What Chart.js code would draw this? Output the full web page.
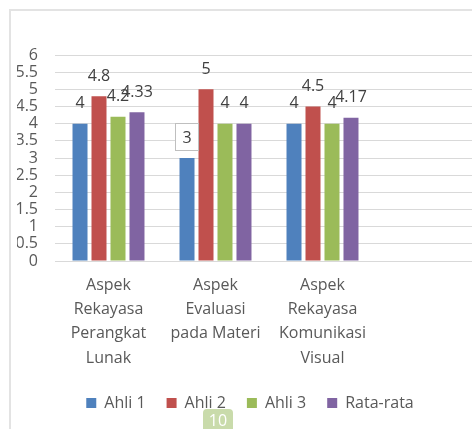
<!DOCTYPE html>
<html>
<head>
<meta charset="utf-8">
<script src="https://cdn.jsdelivr.net/npm/chart.js@4/dist/chart.umd.min.js"></script>
<style>
  html, body { margin: 0; padding: 0; background: #ffffff; overflow: hidden; width: 472px; height: 429px; }
  #frame { position: absolute; left: 9px; top: 9px; width: 600px; height: 500px; border-left: 2px solid #e3e3e3; border-top: 2px solid #e3e3e3; box-sizing: border-box; }
  #wrap { position: absolute; left: 0; top: 0; width: 500px; height: 429px; }
  #badge { position: absolute; left: 203px; top: 409px; width: 30px; height: 24px; background: #c9dbab; border-radius: 4px; color: #ffffff; font: 16px 'Open Sans', sans-serif; text-align: center; line-height: 22px; }
</style>
</head>
<body>
<div id="frame"></div>
<div id="wrap"><canvas id="c" width="500" height="429"></canvas></div>
<div id="badge">10</div>
<script>
const categories = [
  ["Aspek", "Rekayasa", "Perangkat", "Lunak"],
  ["Aspek", "Evaluasi", "pada Materi"],
  ["Aspek", "Rekayasa", "Komunikasi", "Visual"],
  ""
];
const seriesNames = ["Ahli 1", "Ahli 2", "Ahli 3", "Rata-rata"];
const ahli1 = [4, 3, 4, null];
const ahli2 = [4.8, 5, 4.5, null];
const ahli3 = [4.2, 4, 4, null];
const rataRata = [4.33, 4, 4.17, null];
const yTicks = [0, 0.5, 1, 1.5, 2, 2.5, 3, 3.5, 4, 4.5, 5, 5.5, 6];

const FONT = "'Open Sans', Lato, sans-serif";
const colors = ["#4F81BD", "#C0504D", "#9BBB59", "#8064A2"];
const seriesData = [ahli1, ahli2, ahli3, rataRata];

const valueLabels = {
  id: "valueLabels",
  afterDatasetsDraw(chart, args, opts) {
    const ctx = chart.ctx;
    ctx.save();
    ctx.font = "16px " + FONT;
    ctx.textAlign = "center";
    ctx.textBaseline = "middle";
    chart.data.datasets.forEach((ds, di) => {
      const meta = chart.getDatasetMeta(di);
      meta.data.forEach((el, i) => {
        const v = ds.data[i];
        if (v === null || v === undefined) return;
        const txt = String(v);
        const x = el.x, y = el.y - 21;
        const boxed = (opts.boxed || []).some(b => b[0] === di && b[1] === i);
        if (boxed) {
          ctx.fillStyle = "#ffffff";
          ctx.strokeStyle = "#bfbfbf";
          ctx.lineWidth = 1;
          ctx.fillRect(x - 12, y - 14, 24, 28);
          ctx.strokeRect(x - 12 + 0.5, y - 14 + 0.5, 23, 27);
        }
        ctx.fillStyle = "#404040";
        ctx.fillText(txt, x, y + 1);
      });
    });
    ctx.restore();
  }
};

new Chart(document.getElementById("c"), {
  type: "bar",
  data: {
    labels: categories,
    datasets: seriesData.map((d, i) => ({
      label: seriesNames[i],
      data: d,
      backgroundColor: colors[i],
      borderWidth: 0,
      categoryPercentage: 0.71,
      barPercentage: 0.79
    }))
  },
  options: {
    responsive: false,
    animation: false,
    devicePixelRatio: 1,
    layout: { padding: { left: 17, right: 17, top: 55, bottom: 8 } },
    plugins: {
      tooltip: { enabled: false },
      valueLabels: { boxed: [[0, 1]] },
      legend: {
        position: "bottom",
        labels: {
          boxWidth: 10,
          boxHeight: 10,
          padding: 21,
          color: "#595959",
          font: { family: FONT, size: 16 }
        }
      }
    },
    scales: {
      x: {
        grid: { display: false, drawTicks: false },
        border: { display: true, color: "#d9d9d9", width: 1 },
        ticks: {
          color: "#595959",
          padding: 12,
          maxRotation: 0,
          autoSkip: false,
          font: { family: FONT, size: 16, lineHeight: 1.52 }
        },
        afterFit(s) { s.height = 113; }
      },
      y: {
        min: 0,
        max: 6,
        afterBuildTicks(s) { s.ticks = yTicks.map(v => ({ value: v })); },
        grid: { color: "#d9d9d9", drawTicks: false, lineWidth: 1 },
        border: { display: false },
        ticks: {
          color: "#595959",
          padding: 17,
          autoSkip: false,
          font: { family: FONT, size: 16, lineHeight: 1.0 },
          callback: v => String(v)
        },
        afterFit(s) { s.width = 38; }
      }
    }
  },
  plugins: [valueLabels]
});
</script>
</body>
</html>
